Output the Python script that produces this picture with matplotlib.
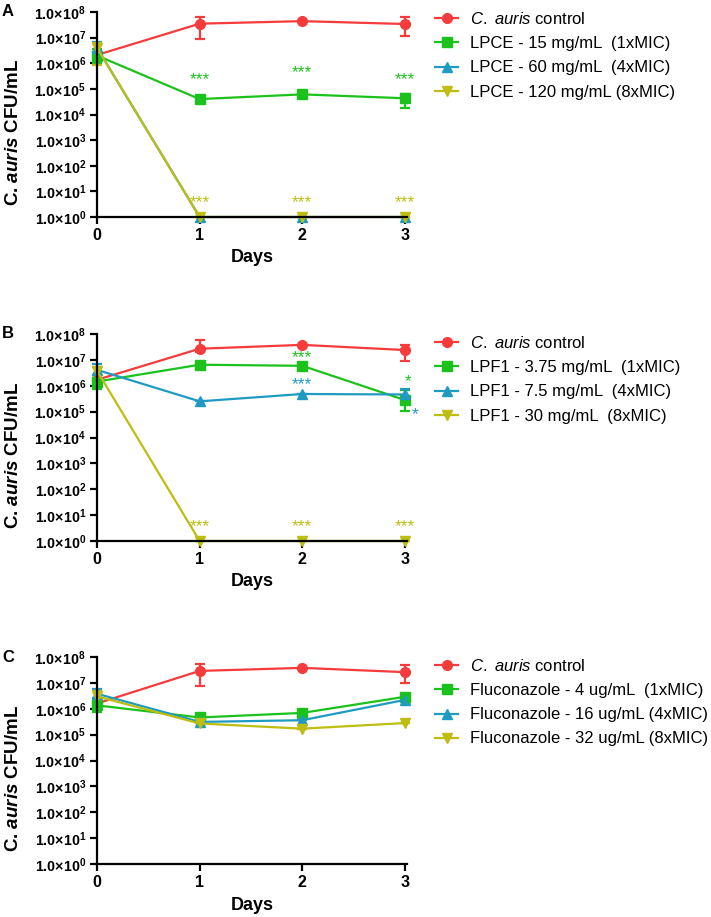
import numpy as np
import matplotlib.pyplot as plt
from matplotlib.ticker import FixedLocator, NullLocator

plt.rcParams['font.family'] = ['Liberation Sans', 'DejaVu Sans']
plt.rcParams['mathtext.fontset'] = 'custom'
plt.rcParams['mathtext.rm'] = 'Liberation Sans'
plt.rcParams['mathtext.bf'] = 'Liberation Sans:bold'
plt.rcParams['mathtext.it'] = 'Liberation Sans:italic'
plt.rcParams['mathtext.sf'] = 'Liberation Sans:italic:bold'

days = [0, 1, 2, 3]
colors = ['#F53B3B', '#1CC21C', '#1F9BC2', '#BDBD12']
markers = ['o', 's', '^', 'v']

# panel A - LPCE
a_labels = ['$\\mathit{C.\\ auris}$ control', 'LPCE - 15 mg/mL  (1xMIC)',
            'LPCE - 60 mg/mL  (4xMIC)', 'LPCE - 120 mg/mL (8xMIC)']
a_vals = [[2.1e6, 3.5e7, 4.4e7, 3.4e7],
          [2.0e6, 4.0e4, 6.1e4, 4.3e4],
          [4.0e6, 1, 1, 1],
          [4.0e6, 1, 1, 1]]
a_lo = [[1.6e6, 8.5e6, 4.4e7, 1.15e7],
        [1.0e6, 3.3e4, 4.3e4, 1.8e4],
        [2.0e6, 1, 1, 1],
        [8.5e5, 1, 1, 1]]
a_hi = [[2.6e6, 6.2e7, 4.4e7, 6.3e7],
        [3.5e6, 4.8e4, 8.5e4, 6.3e4],
        [7.0e6, 1, 1, 1],
        [5.9e6, 1, 1, 1]]
a_stars = [(1, 2.3e5, '***', 1), (2, 4.3e5, '***', 1), (3, 2.4e5, '***', 1),
           (1, 3.7, '***', 3), (2, 3.7, '***', 3), (3, 3.7, '***', 3)]

# panel B - LPF1
b_labels = ['$\\mathit{C.\\ auris}$ control', 'LPF1 - 3.75 mg/mL  (1xMIC)',
            'LPF1 - 7.5 mg/mL  (4xMIC)', 'LPF1 - 30 mg/mL  (8xMIC)']
b_vals = [[1.7e6, 2.7e7, 3.8e7, 2.4e7],
          [1.45e6, 6.5e6, 5.9e6, 2.8e5],
          [4.1e6, 2.5e5, 4.8e5, 4.6e5],
          [3.8e6, 1, 1, 1]]
b_lo = [[1.7e6, 2.0e7, 3.8e7, 8.9e6],
        [7.5e5, 6.0e6, 4.5e6, 1.1e5],
        [2.5e6, 2.5e5, 4.8e5, 2.3e5],
        [2.0e6, 1, 1, 1]]
b_hi = [[1.7e6, 6.0e7, 3.8e7, 3.7e7],
        [2.5e6, 7.0e6, 7.5e6, 6.8e5],
        [6.8e6, 2.5e5, 4.8e5, 7.4e5],
        [5.5e6, 1, 1, 1]]
b_stars = [(2, 1.2e7, '***', 1), (2, 1.07e6, '***', 2),
           (3.03, 1.4e6, '*', 1), (3.1, 8.0e4, '*', 2),
           (1, 3.7, '***', 3), (2, 3.7, '***', 3), (3, 3.7, '***', 3)]

# panel C - Fluconazole
c_labels = ['$\\mathit{C.\\ auris}$ control', 'Fluconazole - 4 ug/mL  (1xMIC)',
            'Fluconazole - 16 ug/mL (4xMIC)', 'Fluconazole - 32 ug/mL (8xMIC)']
c_vals = [[1.6e6, 2.9e7, 3.8e7, 2.6e7],
          [1.35e6, 4.6e5, 6.9e5, 2.9e6],
          [3.8e6, 3.1e5, 3.6e5, 2.2e6],
          [3.0e6, 2.7e5, 1.7e5, 2.8e5]]
c_lo = [[1.6e6, 7.4e6, 3.8e7, 1.0e7],
        [7.5e5, 4.6e5, 6.9e5, 2.9e6],
        [2.5e6, 3.1e5, 3.6e5, 2.2e6],
        [2.0e6, 2.7e5, 1.7e5, 2.8e5]]
c_hi = [[1.6e6, 5.5e7, 3.8e7, 4.9e7],
        [2.2e6, 4.6e5, 6.9e5, 2.9e6],
        [5.8e6, 3.1e5, 3.6e5, 2.2e6],
        [4.8e6, 2.7e5, 1.7e5, 2.8e5]]
c_stars = [(3.03, 1.4e6, '*', 1)]

W, H = 711, 917
fig = plt.figure(figsize=(W / 100, H / 100), dpi=100)

panels = [('A', 12, 217, a_vals, a_lo, a_hi, a_labels, a_stars, 19, 258),
          ('B', 334, 541, b_vals, b_lo, b_hi, b_labels, b_stars, 343, 582),
          ('C', 657, 864, c_vals, c_lo, c_hi, c_labels, c_stars, 666, 905)]

yticks = [10.0 ** k for k in range(9)]
ytlabels = ['$\\mathbf{1.0{\\times}10^{%d}}$' % k for k in range(9)]

for letter, top, bot, vals, lo, hi, labels, stars, leg_y, days_y in panels:
    ax = fig.add_axes([97 / W, 1 - bot / H, 310 / W, (bot - top) / H])
    handles = []
    for i in range(4):
        v = np.array(vals[i], dtype=float)
        yerr = [v - np.array(lo[i]), np.array(hi[i]) - v]
        eb = ax.errorbar(days, v, yerr=yerr, color=colors[i], marker=markers[i],
                         markersize=7, linewidth=1.6, elinewidth=1.6,
                         capsize=3.5, capthick=1.6, clip_on=False)
        for art in eb.lines[1] + eb.lines[2]:
            art.set_clip_on(False)
        eb.lines[0].set_clip_on(False)
        h, = ax.plot([], [], color=colors[i], marker=markers[i], markersize=7,
                     linewidth=1.6)
        handles.append(h)
    for x, y, s, ci in stars:
        ax.text(x, y, s, color=colors[ci], fontsize=12.5, ha='center', va='center')

    ax.set_yscale('log')
    ax.set_ylim(1, 1e8)
    ax.set_xlim(0, 3.02)
    ax.yaxis.set_major_locator(FixedLocator(yticks))
    ax.yaxis.set_minor_locator(NullLocator())
    ax.set_yticklabels(ytlabels, fontsize=10.3)
    ax.set_xticks(days)
    ax.set_xticklabels([str(d) for d in days], fontsize=11.5, fontweight='bold')
    for s in ['top', 'right']:
        ax.spines[s].set_visible(False)
    for s in ['left', 'bottom']:
        ax.spines[s].set_linewidth(1.6)
    ax.tick_params(width=1.6, length=5, pad=3)

    fig.text(2 / W, 1 - top / H, letter, fontsize=12, fontweight='bold',
             ha='left', va='center')
    fig.text(14 / W, 1 - ((top + bot) / 2 + 18) / H,
             'C. $\\mathsf{auris}$ CFU/mL', rotation=90, fontsize=13.5,
             fontweight='bold', ha='center', va='center')
    fig.text(252 / W, 1 - days_y / H, 'Days', fontsize=13, fontweight='bold',
             ha='center', va='center')

    fig.legend(handles, labels, loc='upper left',
               bbox_to_anchor=(435 / W, 1 - (leg_y - 8) / H),
               frameon=False, fontsize=12, handlelength=1.4,
               handletextpad=0.7, labelspacing=0.55, borderpad=0,
               borderaxespad=0)

fig.savefig('out.png', dpi=100)
